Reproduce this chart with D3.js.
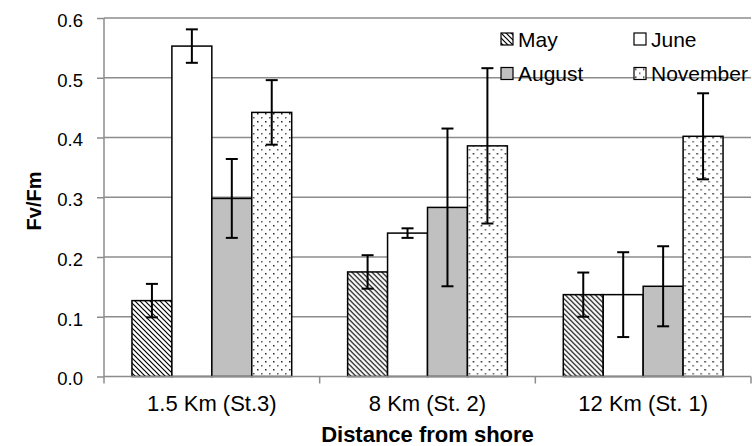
<!DOCTYPE html>
<html>
<head>
<meta charset="utf-8">
<script src="https://cdn.jsdelivr.net/npm/d3@7"></script>
<style>
  body { margin: 0; background: #fff; }
  text { font-family: "Liberation Sans", Arial, sans-serif; }
</style>
</head>
<body>
<div id="chart"></div>
<script>
// data
var categories = ["1.5 Km (St.3)", "8 Km (St. 2)", "12 Km (St. 1)"];
var seriesNames = ["May", "June", "August", "November"];
var mayVals = [0.127, 0.175, 0.137];
var juneVals = [0.553, 0.240, 0.137];
var augustVals = [0.298, 0.283, 0.151];
var novemberVals = [0.442, 0.386, 0.402];
var mayErr = [0.028, 0.028, 0.037];
var juneErr = [0.028, 0.008, 0.071];
var augustErr = [0.066, 0.132, 0.067];
var novemberErr = [0.054, 0.130, 0.072];
var yTicks = [0, 0.1, 0.2, 0.3, 0.4, 0.5, 0.6];

var values = [mayVals, juneVals, augustVals, novemberVals];
var errors = [mayErr, juneErr, augustErr, novemberErr];

var width = 752, height = 446;
// plot area (don't call it "top", window.top is read only)
var plotL = 104, plotR = 751, plotT = 18, plotB = 376.5;

var svg = d3.select("#chart").append("svg")
  .attr("width", width)
  .attr("height", height);

var defs = svg.append("defs");

// May: wide downward diagonal
var pMay = defs.append("pattern")
  .attr("id", "pMay")
  .attr("patternUnits", "userSpaceOnUse")
  .attr("width", 5).attr("height", 5);
pMay.append("rect").attr("width", 5).attr("height", 5).attr("fill", "#fff");
pMay.append("path")
  .attr("d", "M-1,-1 L6,6 M-1,4 L1,6 M4,-1 L6,1")
  .attr("stroke", "#000").attr("stroke-width", 1.2);

// November: sparse dots
var pNov = defs.append("pattern")
  .attr("id", "pNov")
  .attr("patternUnits", "userSpaceOnUse")
  .attr("width", 8).attr("height", 8);
pNov.append("rect").attr("width", 8).attr("height", 8).attr("fill", "#fff");
pNov.append("rect").attr("x", 1).attr("y", 1).attr("width", 1.5).attr("height", 1.5).attr("fill", "#222");
pNov.append("rect").attr("x", 5).attr("y", 5).attr("width", 1.5).attr("height", 1.5).attr("fill", "#555");

var fills = ["url(#pMay)", "#ffffff", "#c0c0c0", "url(#pNov)"];

var y = d3.scaleLinear().domain([0, 0.6]).range([plotB, plotT]);

var x0 = d3.scaleBand()
  .domain(categories)
  .range([plotL, plotR])
  .paddingInner(0)
  .paddingOuter(0);

var x1 = d3.scaleBand()
  .domain(seriesNames)
  .range([0, x0.bandwidth()])
  .paddingInner(0)
  .paddingOuter(0.7);

// gridlines
svg.append("g")
  .selectAll("line")
  .data(yTicks.slice(1))
  .enter()
  .append("line")
  .attr("x1", plotL).attr("x2", plotR)
  .attr("y1", function(d){ return y(d); })
  .attr("y2", function(d){ return y(d); })
  .attr("stroke", "#8c8c8c")
  .attr("stroke-width", 1.5);

// y axis
var yAxis = d3.axisLeft(y)
  .tickValues(yTicks)
  .tickFormat(d3.format(".1f"))
  .tickSize(7)
  .tickPadding(14);

var gy = svg.append("g")
  .attr("transform", "translate(" + plotL + ",0)")
  .call(yAxis);
gy.select(".domain").attr("stroke", "#8c8c8c").attr("stroke-width", 1.5)
  .attr("d", "M0," + (plotB + 0.5) + "V" + plotT);
gy.selectAll(".tick line").attr("stroke", "#8c8c8c").attr("stroke-width", 1.5);
gy.selectAll(".tick text")
  .attr("font-size", 18.5)
  .attr("dy", "0.45em")
  .attr("fill", "#000")
  .style("font-family", "Liberation Sans, Arial, sans-serif");

// bars
var groups = svg.append("g")
  .selectAll("g")
  .data(categories)
  .enter()
  .append("g")
  .attr("transform", function(d){ return "translate(" + x0(d) + ",0)"; });

groups.selectAll("rect")
  .data(function(d, i){
    return seriesNames.map(function(s, j){
      return {s: s, j: j, v: values[j][i], e: errors[j][i]};
    });
  })
  .enter()
  .append("rect")
  .attr("x", function(d){ return x1(d.s); })
  .attr("width", x1.bandwidth())
  .attr("y", function(d){ return y(d.v); })
  .attr("height", function(d){ return y(0) - y(d.v); })
  .attr("fill", function(d){ return fills[d.j]; })
  .attr("stroke", "#000")
  .attr("stroke-width", 1.5);

// error bars
var err = groups.selectAll("g.err")
  .data(function(d, i){
    return seriesNames.map(function(s, j){
      return {s: s, v: values[j][i], e: errors[j][i]};
    });
  })
  .enter()
  .append("g")
  .attr("class", "err")
  .attr("transform", function(d){ return "translate(" + (x1(d.s) + x1.bandwidth() / 2) + ",0)"; });

err.append("line")
  .attr("x1", 0).attr("x2", 0)
  .attr("y1", function(d){ return y(d.v + d.e); })
  .attr("y2", function(d){ return y(d.v - d.e); })
  .attr("stroke", "#000").attr("stroke-width", 2);
err.append("line")
  .attr("x1", -6).attr("x2", 6)
  .attr("y1", function(d){ return y(d.v + d.e); })
  .attr("y2", function(d){ return y(d.v + d.e); })
  .attr("stroke", "#000").attr("stroke-width", 2);
err.append("line")
  .attr("x1", -6).attr("x2", 6)
  .attr("y1", function(d){ return y(d.v - d.e); })
  .attr("y2", function(d){ return y(d.v - d.e); })
  .attr("stroke", "#000").attr("stroke-width", 2);

// x axis
var gx = svg.append("g");
gx.append("line")
  .attr("x1", plotL).attr("x2", plotR)
  .attr("y1", plotB).attr("y2", plotB)
  .attr("stroke", "#8c8c8c").attr("stroke-width", 1.5);

var boundaries = categories.map(function(c){ return x0(c); }).concat([plotR]);
gx.selectAll("line.tick")
  .data(boundaries)
  .enter()
  .append("line")
  .attr("class", "tick")
  .attr("x1", function(d){ return d; })
  .attr("x2", function(d){ return d; })
  .attr("y1", plotB).attr("y2", plotB + 7)
  .attr("stroke", "#8c8c8c").attr("stroke-width", 1.5);

gx.selectAll("text")
  .data(categories)
  .enter()
  .append("text")
  .attr("x", function(d){ return x0(d) + x0.bandwidth() / 2; })
  .attr("y", 411)
  .attr("text-anchor", "middle")
  .attr("font-size", 22)
  .text(function(d){ return d; });

// axis titles
svg.append("text")
  .attr("x", (plotL + plotR) / 2)
  .attr("y", 442)
  .attr("text-anchor", "middle")
  .attr("font-size", 22)
  .attr("font-weight", "bold")
  .text("Distance from shore");

svg.append("text")
  .attr("transform", "translate(41,201) rotate(-90)")
  .attr("text-anchor", "middle")
  .attr("font-size", 20)
  .attr("font-weight", "bold")
  .text("Fv/Fm");

// legend
var legendX = [501, 634];
var legendY = [33, 67.5];
var legend = svg.append("g")
  .selectAll("g")
  .data(seriesNames)
  .enter()
  .append("g")
  .attr("transform", function(d, i){
    return "translate(" + legendX[i % 2] + "," + legendY[Math.floor(i / 2)] + ")";
  });

legend.append("rect")
  .attr("x", 0).attr("y", 0)
  .attr("width", 12).attr("height", 12)
  .attr("fill", function(d, i){ return fills[i]; })
  .attr("stroke", "#000")
  .attr("stroke-width", 1.2);

legend.append("text")
  .attr("x", 17)
  .attr("y", 13.5)
  .attr("font-size", 21)
  .text(function(d){ return d; });
</script>
</body>
</html>
